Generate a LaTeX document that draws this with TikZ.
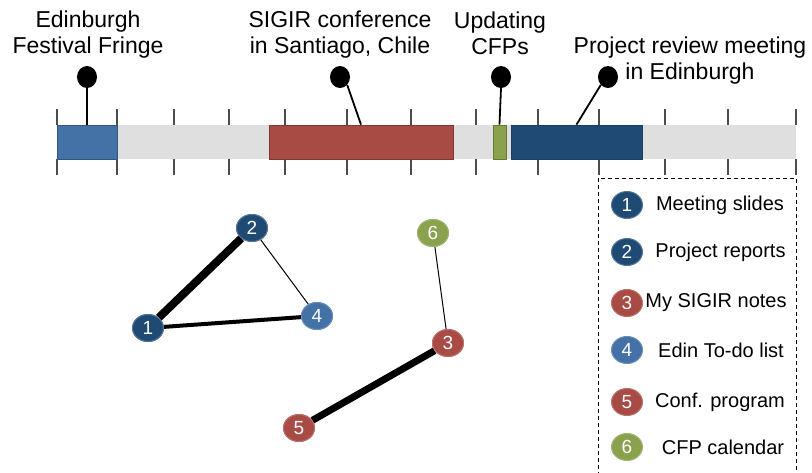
\documentclass[tikz,border=0pt]{standalone}
\usepackage{fontspec}
\setmainfont{Liberation Sans}
\usetikzlibrary{shapes.geometric}
\definecolor{dblue}{HTML}{1F4A73}
\definecolor{lblue}{HTML}{4472A6}
\definecolor{dred}{HTML}{A84B45}
\definecolor{lgreen}{HTML}{8AA24E}
\definecolor{barg}{HTML}{DFDFDF}
\tikzset{
  tick/.style={draw=black!70, line width=1.3pt},
  dotc/.style={ellipse, fill=black, inner sep=0pt, minimum width=20pt, minimum height=22pt},
  call/.style={line width=1.8pt},
  lbl/.style={font=\fontsize{23}{26}\selectfont, align=center, inner sep=0pt},
  gnode/.style={ellipse, inner sep=0pt, minimum width=31pt, minimum height=27pt, line width=1pt, text=white, font=\fontsize{19}{19}\selectfont},
  nd/.style={gnode, fill=dblue, draw=dblue!75!white},
  nl/.style={gnode, fill=lblue, draw=lblue!80!white},
  nr/.style={gnode, fill=dred, draw=dred!80!white},
  ng/.style={gnode, fill=lgreen, draw=lgreen!80!white},
  leg/.style={font=\fontsize{20}{22}\selectfont, inner sep=0pt, anchor=center},
}
\begin{document}
\begin{tikzpicture}[x=1pt,y=-1pt]
\useasboundingbox (0,0) rectangle (812,472);
% bar
\fill[barg] (57,125) rectangle (796,159);
% ticks
\foreach \x in {57,117,174,229,285,347,411,476,538,599,665,728,796}{
  \draw[tick] (\x,109) -- (\x,125);
  \draw[tick] (\x,159) -- (\x,175);
}
% event boxes
\node[draw=lblue!75!black, fill=lblue, line width=0.8pt, minimum width=60pt, minimum height=34pt, inner sep=0pt] (fringe) at (87,142) {};
\node[draw=dred!75!black, fill=dred, line width=0.8pt, minimum width=184pt, minimum height=34pt, inner sep=0pt] (sigir) at (361,142) {};
\node[draw=lgreen!75!black, fill=lgreen, line width=0.8pt, minimum width=13pt, minimum height=34pt, inner sep=0pt] (cfp) at (499.5,142) {};
\node[draw=dblue!85!black, fill=dblue, line width=0.8pt, minimum width=131pt, minimum height=34pt, inner sep=0pt] (review) at (576.5,142) {};
% callouts
\node[dotc] (d1) at (87,77) {};
\node[dotc] (d2) at (340,77) {};
\node[dotc] (d3) at (501,77) {};
\node[dotc] (d4) at (608,77) {};
\draw[call] (d1.south) -- (fringe.north);
\draw[call] (d2.south east) -- (sigir.north);
\draw[call] (d3.south) -- (cfp.north);
\draw[call] (d4.south west) -- (review.north);
\node[lbl] (t1) at (88,35) {Edinburgh\\Festival Fringe};
\node[lbl] (t2) at (340,35) {SIGIR conference\\in Santiago, Chile};
\node[lbl] (t3) at (500,33) {Updating\\CFPs};
\node[lbl] (t4) at (690,48) {Project review meeting};
\node[lbl] (t5) at (690,74) {in Edinburgh};
% legend box
\draw[line width=0.9pt, dash pattern=on 4pt off 3pt] (598,476) -- (598,178) -- (796,178) -- (796,476);
\node[nd] (l1) at (627,205) {1};
\node[nd] (l2) at (627,252) {2};
\node[nr] (l3) at (627,303) {3};
\node[nl] (l4) at (627,350) {4};
\node[nr] (l5) at (627,402) {5};
\node[ng] (l6) at (627,447) {6};
\node[leg] (k1) at (720,205) {Meeting slides};
\node[leg] (k2) at (720.5,252) {Project reports};
\node[leg] (k3) at (716,303) {My SIGIR notes};
\node[leg] (k4) at (721,350) {Edin To-do list};
\node[leg] (k5) at (720,402) {Conf. program};
\node[leg] (k6) at (723,447) {CFP calendar};
% graph
\node[nd] (n1) at (148,328) {1};
\node[nd] (n2) at (252,228) {2};
\node[nr] (n3) at (448,343) {3};
\node[nl] (n4) at (317,316) {4};
\node[nr] (n5) at (299,428) {5};
\node[ng] (n6) at (433,233) {6};
\draw[line width=8pt] (n1) -- (n2);
\draw[line width=4pt] (n1) -- (n4);
\draw[line width=1pt] (n2) -- (n4);
\draw[line width=7pt] (n3) -- (n5);
\draw[line width=1pt] (n3) -- (n6);
% redraw nodes above edges
\node[nd] at (n1) {1};
\node[nd] at (n2) {2};
\node[nr] at (n3) {3};
\node[nl] at (n4) {4};
\node[nr] at (n5) {5};
\node[ng] at (n6) {6};
\end{tikzpicture}
\end{document}
